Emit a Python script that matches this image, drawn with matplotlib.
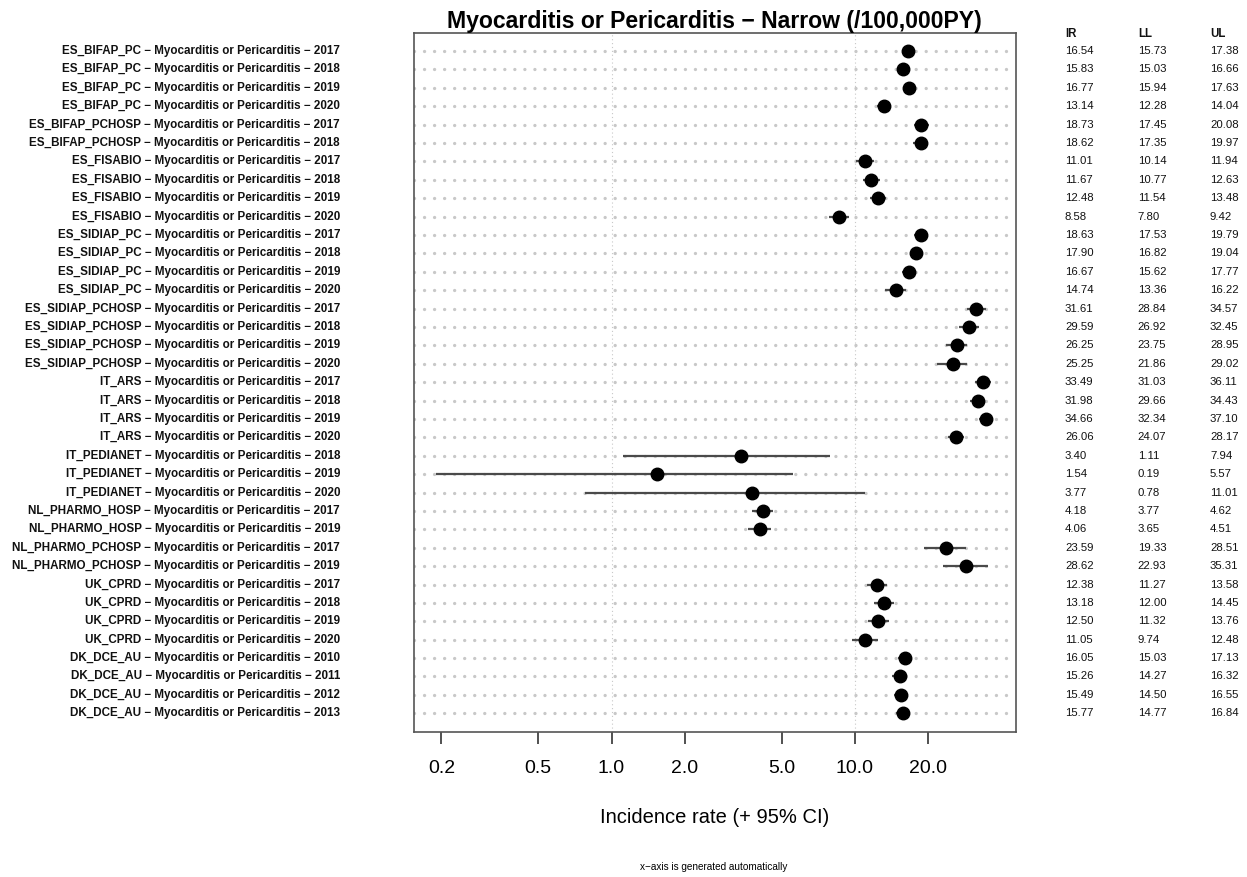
import numpy as np
import matplotlib

matplotlib.use("Agg")
import matplotlib.pyplot as plt  # noqa: E402
from matplotlib.ticker import NullLocator  # noqa: E402
from matplotlib.transforms import blended_transform_factory  # noqa: E402

plt.rcParams["font.family"] = ["Liberation Sans", "DejaVu Sans"]

OUTCOME = "Myocarditis or Pericarditis"
sources = [
    "ES_BIFAP_PC", "ES_BIFAP_PC", "ES_BIFAP_PC", "ES_BIFAP_PC",
    "ES_BIFAP_PCHOSP", "ES_BIFAP_PCHOSP",
    "ES_FISABIO", "ES_FISABIO", "ES_FISABIO", "ES_FISABIO",
    "ES_SIDIAP_PC", "ES_SIDIAP_PC", "ES_SIDIAP_PC", "ES_SIDIAP_PC",
    "ES_SIDIAP_PCHOSP", "ES_SIDIAP_PCHOSP", "ES_SIDIAP_PCHOSP", "ES_SIDIAP_PCHOSP",
    "IT_ARS", "IT_ARS", "IT_ARS", "IT_ARS",
    "IT_PEDIANET", "IT_PEDIANET", "IT_PEDIANET",
    "NL_PHARMO_HOSP", "NL_PHARMO_HOSP",
    "NL_PHARMO_PCHOSP", "NL_PHARMO_PCHOSP",
    "UK_CPRD", "UK_CPRD", "UK_CPRD", "UK_CPRD",
    "DK_DCE_AU", "DK_DCE_AU", "DK_DCE_AU", "DK_DCE_AU",
]
years = [
    2017, 2018, 2019, 2020,
    2017, 2018,
    2017, 2018, 2019, 2020,
    2017, 2018, 2019, 2020,
    2017, 2018, 2019, 2020,
    2017, 2018, 2019, 2020,
    2018, 2019, 2020,
    2017, 2019,
    2017, 2019,
    2017, 2018, 2019, 2020,
    2010, 2011, 2012, 2013,
]
ir = [
    16.54, 15.83, 16.77, 13.14, 18.73, 18.62, 11.01, 11.67, 12.48, 8.58,
    18.63, 17.90, 16.67, 14.74, 31.61, 29.59, 26.25, 25.25, 33.49, 31.98,
    34.66, 26.06, 3.40, 1.54, 3.77, 4.18, 4.06, 23.59, 28.62, 12.38,
    13.18, 12.50, 11.05, 16.05, 15.26, 15.49, 15.77,
]
ll = [
    15.73, 15.03, 15.94, 12.28, 17.45, 17.35, 10.14, 10.77, 11.54, 7.80,
    17.53, 16.82, 15.62, 13.36, 28.84, 26.92, 23.75, 21.86, 31.03, 29.66,
    32.34, 24.07, 1.11, 0.19, 0.78, 3.77, 3.65, 19.33, 22.93, 11.27,
    12.00, 11.32, 9.74, 15.03, 14.27, 14.50, 14.77,
]
ul = [
    17.38, 16.66, 17.63, 14.04, 20.08, 19.97, 11.94, 12.63, 13.48, 9.42,
    19.79, 19.04, 17.77, 16.22, 34.57, 32.45, 28.95, 29.02, 36.11, 34.43,
    37.10, 28.17, 7.94, 5.57, 11.01, 4.62, 4.51, 28.51, 35.31, 13.58,
    14.45, 13.76, 12.48, 17.13, 16.32, 16.55, 16.84,
]
xticks = [0.2, 0.5, 1.0, 2.0, 5.0, 10.0, 20.0]
ref_lines = [1.0, 10.0]

labels = [f"{s} \u2212 {OUTCOME} \u2212 {y}" for s, y in zip(sources, years)]
n = len(labels)
ypos = np.arange(n, 0, -1)  # first study on top

fig = plt.figure(figsize=(12.47, 8.77), dpi=100)
ax = fig.add_axes([0.3318, 0.1657, 0.4827, 0.797])

# x range: data span plus 4% on the log scale
lo, hi = np.log10(min(ll)), np.log10(max(ul))
pad = 0.04 * (hi - lo)
xlim = (10 ** (lo - pad), 10 ** (hi + pad))
ax.set_xscale("log")
ax.set_xlim(*xlim)
ax.set_ylim(0, n + 1)

# dotted guide per row and reference lines
for y in ypos:
    ax.plot(xlim, [y, y], color="#c8c8c8", lw=2.4, ls=(0, (0.01, 3.0)),
            dash_capstyle="round", zorder=1)
for v in ref_lines:
    ax.axvline(v, color="#c8c8c8", lw=0.8, ls=(0, (1, 2.5)), zorder=1)

ax.hlines(ypos, ll, ul, color="#4a4a4a", lw=1.6, zorder=2)
ax.plot(ir, ypos, "o", color="black", ms=9, zorder=3)

ax.set_yticks([])
ax.xaxis.set_minor_locator(NullLocator())
ax.set_xticks(xticks, [f"{t:.1f}" for t in xticks])
ax.tick_params(axis="x", length=8.4, width=1.1, labelsize=14, pad=12.1, color="#222222")
for sp in ax.spines.values():
    sp.set_color("#555555")
    sp.set_linewidth(1.2)

ax.set_title(f"{OUTCOME} \u2212 Narrow (/100,000PY)", fontsize=16.6,
             fontweight="bold", pad=3)
ax.set_xlabel("Incidence rate (+ 95% CI)", fontsize=14.5, labelpad=22)

# study labels on the left, estimate table on the right
tr = blended_transform_factory(fig.transFigure, ax.transData)
for y, lab in zip(ypos, labels):
    ax.text(0.2727, y, lab, transform=tr, ha="right", va="center",
            fontsize=8.4, fontweight="bold", color="#111111")

cols = [0.854, 0.9124, 0.9703]
for x, head, vals in zip(cols, ["IR", "LL", "UL"], [ir, ll, ul]):
    ax.text(x, n + 0.95, head, transform=tr, ha="left", va="center",
            fontsize=8.3, fontweight="bold", color="#111111")
    for y, v in zip(ypos, vals):
        ax.text(x, y, f"{v:.2f}", transform=tr, ha="left", va="center",
                fontsize=8.2, color="#111111")

fig.text(0.5725, 1 - 867 / 877, "x\u2212axis is generated automatically",
         ha="center", va="center", fontsize=7.2)

fig.savefig("out.png", dpi=100)
